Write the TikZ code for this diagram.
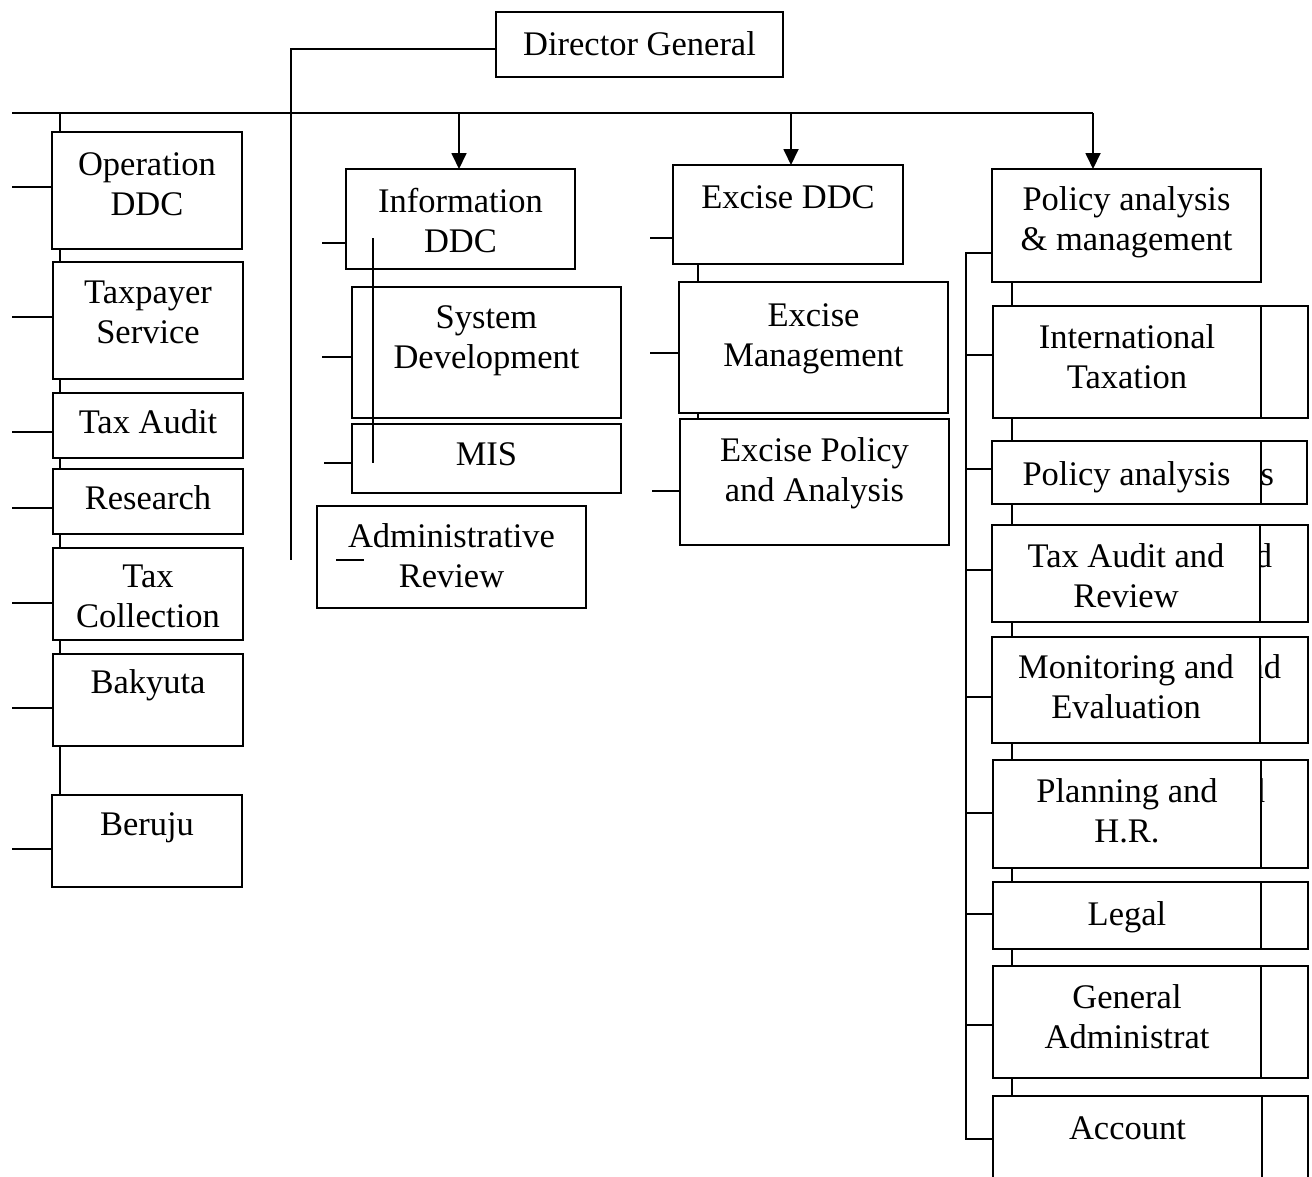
\documentclass[tikz,border=0pt]{standalone}
\usepackage{fontspec}
\setmainfont{Liberation Serif}
\usetikzlibrary{arrows.meta}
\newcommand\mybox[7]{%
  \node[box, minimum width={#4-#2}, minimum height={#5-#3}] (#1) at ({(#2+#4)/2},{(#3+#5)/2}) {};
  \node[lbl] (#1t) at ({(#2+#4)/2},{#6-28}) {\strut #7};}
\newcommand\backbox[5]{%
  \node[box, minimum width={#4-#2}, minimum height={#5-#3}] (#1) at ({(#2+#4)/2},{(#3+#5)/2}) {};}
\begin{document}
\begin{tikzpicture}[x=1pt,y=-1pt,line width=1.8pt,
  box/.style={draw, rectangle, inner sep=0pt, outer sep=0pt},
  lbl/.style={inner sep=0pt, align=center, anchor=north, font=\fontsize{34.5}{40}\selectfont},
  frag/.style={inner sep=0pt, anchor=base east, font=\fontsize{34.5}{40}\selectfont},
  arr/.style={-{Triangle[width=15pt,length=16pt]}}]
\useasboundingbox (0,0) rectangle (1312,1176);
\clip (0,0) rectangle (1312,1176);

% boxes
\mybox{dg}{496}{12}{783}{77}{55}{Director General}
\mybox{op}{52}{132}{242}{249}{175}{Operation\\DDC}
\mybox{tp}{53}{262}{243}{379}{303}{Taxpayer\\Service}
\mybox{ta}{53}{393}{243}{458}{433}{Tax Audit}
\mybox{rs}{53}{469}{243}{534}{509}{Research}
\mybox{tc}{53}{548}{243}{640}{587}{Tax\\Collection}
\mybox{bk}{53}{654}{243}{746}{693}{Bakyuta}
\mybox{br}{52}{795}{242}{887}{835}{Beruju}
\mybox{inf}{346}{169}{575}{269}{212}{Information\\DDC}
\mybox{sd}{352}{287}{621}{418}{328}{System\\Development}
\mybox{mis}{352}{424}{621}{493}{465}{MIS}
\mybox{ar}{317}{506}{586}{608}{547}{Administrative\\Review}
\mybox{exd}{673}{165}{903}{264}{208}{Excise DDC}
\mybox{exm}{679}{282}{948}{413}{326}{Excise\\Management}
\mybox{exa}{680}{419}{949}{545}{461}{Excise Policy\\and Analysis}
\mybox{pam}{992}{169}{1261}{282}{210}{Policy analysis\\\& management}
\mybox{it}{993}{306}{1261}{418}{348}{International\\Taxation}
\mybox{pa}{992}{441}{1261}{504}{485}{Policy analysis}
\mybox{tar}{992}{525}{1260}{622}{567}{Tax Audit and\\Review}
\mybox{me}{992}{637}{1260}{743}{678}{Monitoring and\\Evaluation}
\mybox{ph}{993}{760}{1261}{868}{802}{Planning and\\H.R.}
\mybox{lg}{993}{882}{1261}{949}{925}{Legal}
\mybox{ga}{993}{966}{1261}{1078}{1008}{General\\Administrat}
\mybox{ac}{993}{1096}{1262}{1210}{1139}{Account}

% boxes lying behind on the right
\backbox{itb}{1261}{306}{1308}{418}
\backbox{pab}{1261}{441}{1307}{504}
\backbox{tarb}{1260}{525}{1308}{622}
\backbox{meb}{1260}{637}{1308}{743}
\backbox{phb}{1261}{760}{1308}{868}
\backbox{lgb}{1261}{882}{1308}{949}
\backbox{gab}{1261}{966}{1308}{1078}
\backbox{acb}{1262}{1096}{1308}{1210}

% text fragments of the hidden boxes
\begin{scope}
\clip (1261,430) rectangle (1312,880);
\node[frag] (f1) at (1275,485) {is};
\node[frag] (f2) at (1273,567) {nd};
\node[frag] (f3) at (1282,678) {nd};
\node[frag] (f4) at (1266,802) {nd};
\end{scope}

% coordinates
\coordinate (busL) at (12,113);
\coordinate (busR) at (1093,113);
\coordinate (busO) at (60,113);
\coordinate (busI) at (459,113);
\coordinate (busE) at (791,113);
\coordinate (dgv) at (291,560);
\coordinate (ivT) at (373,238);
\coordinate (ivB) at (373,463);
\coordinate (arL) at (336,560);
\coordinate (arR) at (364,560);
\coordinate (exv) at (698,0);
\coordinate (rv) at (966,1139);
\coordinate (rc) at (1012,0);

% main connectors
\draw ([yshift=-4.5pt]dg.west) -| (dgv);
\draw (busL) -- (busR);
\draw[arr] (busR) -- (busR |- pam.north);
\draw[arr] (busI) -- (busI |- inf.north);
\draw[arr] (busE) -- (busE |- exd.north);
\draw (busO) -- (busO |- op.north);

% left column
\foreach \a/\b in {op/tp, tp/ta, ta/rs, rs/tc, tc/bk, bk/br}
  \draw (\a.south -| busO) -- (\b.north -| busO);
\foreach \n/\y in {op/187, tp/317, ta/432, rs/508, tc/603, bk/708, br/849}
  \draw (\n.west |- 0,\y) -- (12,\y);

% information column
\draw (inf.west |- 0,243) -- (322,243);
\draw (sd.west |- 0,357) -- (322,357);
\draw (mis.west |- 0,463) -- (324,463);
\draw (ivT) -- (ivB);
\draw (arL) -- (arR);

% excise column
\draw (exd.west |- 0,238) -- (650,238);
\draw (exm.west |- 0,353) -- (650,353);
\draw (exa.west |- 0,491) -- (652,491);
\draw (exd.south -| exv) -- (exm.north -| exv);
\draw (exm.south -| exv) -- (exa.north -| exv);

% policy column
\draw (pam.west |- 0,253) -| (rv) -- (ac.west |- rv);
\foreach \n/\y in {it/355, pa/469, tar/570, me/697, ph/813, lg/914, ga/1025}
  \draw (966,\y) -- (\n.west |- 0,\y);
\foreach \a/\b in {pam/it, it/pa, pa/tar, tar/me, me/ph, ph/lg, lg/ga, ga/ac}
  \draw (\a.south -| rc) -- (\b.north -| rc);
\end{tikzpicture}
\end{document}
